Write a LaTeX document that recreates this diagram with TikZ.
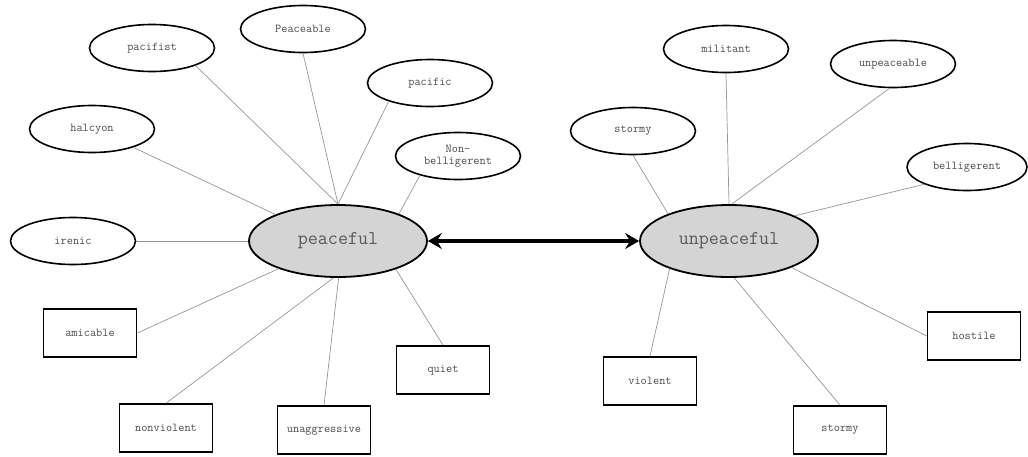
\documentclass[tikz,border=0pt]{standalone}
\usetikzlibrary{shapes.geometric,arrows.meta}
\definecolor{hubfill}{RGB}{212,212,212}
\definecolor{linkgray}{RGB}{150,150,150}
\tikzset{
  word/.style={ellipse,draw=black,line width=1.6pt,fill=white,inner sep=0pt,
    minimum width=125pt,minimum height=47pt,align=center,
    font=\ttfamily\fontsize{12}{12.5}\selectfont,text=black!70},
  wordbox/.style={rectangle,draw=black,line width=1.6pt,fill=white,inner sep=0pt,
    minimum width=93pt,minimum height=48pt,
    font=\ttfamily\fontsize{12}{12.5}\selectfont,text=black!70},
  hub/.style={ellipse,draw=black,line width=1.8pt,fill=hubfill,inner sep=0pt,
    minimum width=178pt,minimum height=72pt,
    font=\ttfamily\fontsize{19.5}{20}\selectfont,text=black!65},
  link/.style={draw=linkgray,line width=0.7pt},
  opposite/.style={line width=3.2pt,{Stealth[length=14pt,width=16pt,inset=5pt]}-{Stealth[length=14pt,width=16pt,inset=5pt]}}
}
\begin{document}
\begin{tikzpicture}[x=1pt,y=-1pt]
\useasboundingbox (0,0) rectangle (1028,456);

% the two opposed concepts
\node[hub] (peaceful)   at (338,241) {peaceful};
\node[hub] (unpeaceful) at (729,241) {unpeaceful};

% synonyms of "peaceful"
\node[word] (pacifist)  at (152,48)  {pacifist};
\node[word] (peaceable) at (303,29)  {Peaceable};
\node[word] (pacific)   at (430,83)  {pacific};
\node[word] (halcyon)   at (92,129)  {halcyon};
\node[word] (nonbell)   at (458,156) {Non-\\belligerent};
\node[word] (irenic)    at (73,241)  {irenic};
\node[wordbox] (amicable)     at (90,333)  {amicable};
\node[wordbox] (nonviolent)   at (166,428) {nonviolent};
\node[wordbox] (unaggressive) at (324,430) {unaggressive};
\node[wordbox] (quiet)        at (443,370) {quiet};

% synonyms of "unpeaceful"
\node[word] (stormyA)     at (633,131) {stormy};
\node[word] (militant)    at (726,49)  {militant};
\node[word] (unpeaceable) at (893,64)  {unpeaceable};
\node[word,minimum width=120pt] (belligerent) at (967,167) {belligerent};
\node[wordbox] (violent)  at (650,381) {violent};
\node[wordbox] (stormyB)  at (840,430) {stormy};
\node[wordbox] (hostile)  at (974,336) {hostile};

% links to "peaceful"
\draw[link] (pacifist.-22)   -- (peaceful.north);
\draw[link] (peaceable.south) -- (peaceful.north);
\draw[link] (pacific.204)    -- (peaceful.north);
\draw[link] (halcyon.-24)    -- (peaceful.157);
\draw[link] (nonbell.207)    -- (peaceful.24);
\draw[link] (irenic.east)    -- (peaceful.west);
\draw[link] (amicable.east)  -- (peaceful.205);
\draw[link] (nonviolent.north) -- (peaceful.263);
\draw[link] (unaggressive.north) -- (peaceful.271);
\draw[link] (quiet.north)    -- (peaceful.334);

% links to "unpeaceful"
\draw[link] (stormyA.south)     -- (unpeaceful.156);
\draw[link] (militant.south)    -- (unpeaceful.north);
\draw[link] (unpeaceable.262)   -- (unpeaceful.86);
\draw[link] (belligerent.202)   -- (unpeaceful.21);
\draw[link] (violent.north)     -- (unpeaceful.205);
\draw[link] (stormyB.north)     -- (unpeaceful.278);
\draw[link] (hostile.west)      -- (unpeaceful.337);

% antonym relation
\draw[opposite] (peaceful.east) -- (unpeaceful.west);
\end{tikzpicture}
\end{document}
